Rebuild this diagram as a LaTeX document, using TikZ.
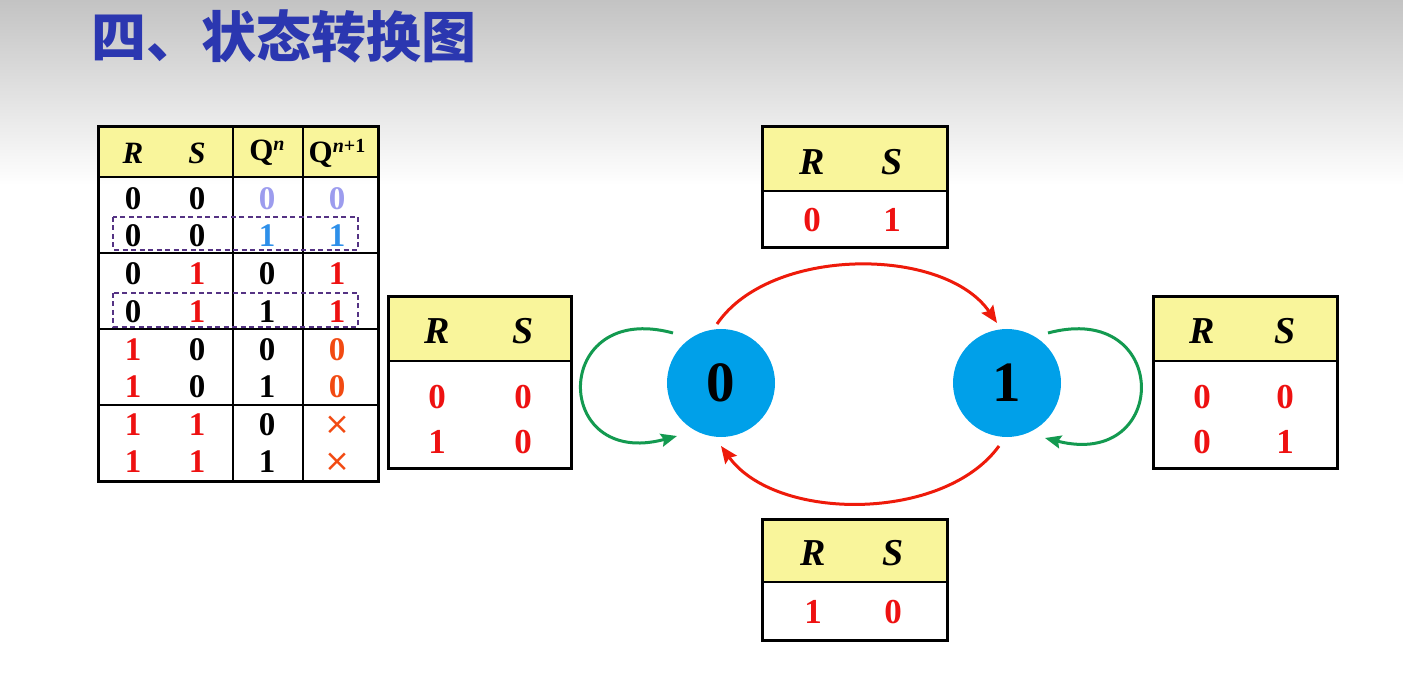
\documentclass[tikz,border=0pt]{standalone}
\usepackage{fontspec}
\setmainfont{Liberation Serif}
\newfontfamily\cjk{Noto Sans CJK SC}
\newfontfamily\symfont{DejaVu Sans}
\usetikzlibrary{arrows.meta,calc}

\definecolor{hdryellow}{HTML}{F9F59B}
\definecolor{digred}{HTML}{EE1111}
\definecolor{digorange}{HTML}{F24A12}
\definecolor{lav}{HTML}{9C9CEE}
\definecolor{skyb}{HTML}{2E90EA}
\definecolor{statefill}{HTML}{00A0E9}
\definecolor{transred}{HTML}{EE1A0A}
\definecolor{loopgreen}{HTML}{139A50}
\definecolor{titleblue}{HTML}{2B37B0}
\definecolor{boxpurple}{HTML}{553384}
\definecolor{topgray}{HTML}{C3C3C3}

\begin{document}
\begin{tikzpicture}[x=1pt,y=-1pt,
  every node/.style={inner sep=0pt},
  tdig/.style={font=\fontsize{33}{33}\selectfont\bfseries},
  thead/.style={font=\fontsize{31}{31}\selectfont\bfseries\itshape},
  sdig/.style={font=\fontsize{35}{35}\selectfont\bfseries, text=digred},
  shead/.style={font=\fontsize{38}{38}\selectfont\bfseries\itshape},
  frame/.style={draw=black, line width=3pt},
  rule/.style={draw=black, line width=2pt},
  groupbox/.style={draw=boxpurple, line width=1.3pt, dash pattern=on 5pt off 3.5pt},
  statenode/.style={circle, fill=statefill, minimum size=108pt,
    font=\fontsize{57}{57}\selectfont\bfseries},
  trans/.style={draw=transred, line width=3pt,
    -{Stealth[length=17pt,width=14pt,inset=2.5pt]}},
  selfloop/.style={draw=loopgreen, line width=3pt,
    -{Stealth[length=16pt,width=13pt,inset=2.5pt]}},
  cross/.style={font=\symfont\fontsize{31}{31}\selectfont, text=digorange}
]
% canvas and background fade
\useasboundingbox (0,0) rectangle (1403,692);
\fill[white] (0,0) rectangle (1403,692);
\shade[top color=topgray, bottom color=white] (0,0) rectangle (1403,185);

% heading
\node[anchor=west, text=titleblue, font=\cjk\bfseries\fontsize{55}{55}\selectfont]
  (title) at (91,36) {四、状态转换图};

% ---------- characteristic table ----------
\fill[hdryellow] (98,127) rectangle (378,177);
\draw[rule] (98,177) -- (378,177);
\draw[rule] (98,253) -- (378,253);
\draw[rule] (98,329) -- (378,329);
\draw[rule] (98,405) -- (378,405);
\draw[rule] (233,127) -- (233,481);
\draw[rule] (303,127) -- (303,481);
\draw[frame] (98,127) rectangle (378,481);

\node[thead] (hR) at (133,153) {R};
\node[thead] (hS) at (197,153) {S};
\node (hQ) at (267,153) {\fontsize{31}{31}\selectfont\bfseries Q\raisebox{10pt}{\fontsize{20}{20}\selectfont\bfseries\itshape n}};
\node (hQn) at (337,153) {\fontsize{31}{31}\selectfont\bfseries Q\raisebox{10pt}{\fontsize{20}{20}\selectfont\bfseries{\itshape n}+1}};

\draw[groupbox] (113,217) rectangle (358,250);
\draw[groupbox] (113,293) rectangle (358,327);

% rows: R, S, Q^n, Q^{n+1}
\node[tdig] (r1a) at (133,199) {0};
\node[tdig] (r1b) at (197,199) {0};
\node[tdig, text=lav] (r1c) at (267,199) {0};
\node[tdig, text=lav] (r1d) at (337,199) {0};

\node[tdig] (r2a) at (133,236) {0};
\node[tdig] (r2b) at (197,236) {0};
\node[tdig, text=skyb] (r2c) at (267,236) {1};
\node[tdig, text=skyb] (r2d) at (337,236) {1};

\node[tdig] (r3a) at (133,274) {0};
\node[tdig, text=digred] (r3b) at (197,274) {1};
\node[tdig] (r3c) at (267,274) {0};
\node[tdig, text=digred] (r3d) at (337,274) {1};

\node[tdig] (r4a) at (133,312) {0};
\node[tdig, text=digred] (r4b) at (197,312) {1};
\node[tdig] (r4c) at (267,312) {1};
\node[tdig, text=digred] (r4d) at (337,312) {1};

\node[tdig, text=digred] (r5a) at (133,350) {1};
\node[tdig] (r5b) at (197,350) {0};
\node[tdig] (r5c) at (267,350) {0};
\node[tdig, text=digorange] (r5d) at (337,350) {0};

\node[tdig, text=digred] (r6a) at (133,387) {1};
\node[tdig] (r6b) at (197,387) {0};
\node[tdig] (r6c) at (267,387) {1};
\node[tdig, text=digorange] (r6d) at (337,387) {0};

\node[tdig, text=digred] (r7a) at (133,425) {1};
\node[tdig, text=digred] (r7b) at (197,425) {1};
\node[tdig] (r7c) at (267,425) {0};
\node[cross] (r7d) at (337,425) {×};

\node[tdig, text=digred] (r8a) at (133,462) {1};
\node[tdig, text=digred] (r8b) at (197,462) {1};
\node[tdig] (r8c) at (267,462) {1};
\node[cross] (r8d) at (337,462) {×};

% ---------- input tables of the transitions ----------
% 0 -> 1
\fill[hdryellow] (762,127) rectangle (947,191);
\draw[rule, line width=2.5pt] (762,191) -- (947,191);
\draw[frame] (762,127) rectangle (947,248);
\node[shead] (tR) at (812,162) {R};
\node[shead] (tS) at (892,162) {S};
\node[sdig] (t1) at (812,220) {0};
\node[sdig] (t2) at (892,220) {1};

% 0 -> 0
\fill[hdryellow] (388,297) rectangle (571,361);
\draw[rule, line width=2.5pt] (388,361) -- (571,361);
\draw[frame] (388,297) rectangle (571,468);
\node[shead] (lR) at (437,331) {R};
\node[shead] (lS) at (523,331) {S};
\node[sdig] (l1) at (437,397) {0};
\node[sdig] (l2) at (523,397) {0};
\node[sdig] (l3) at (437,442) {1};
\node[sdig] (l4) at (523,442) {0};

% 1 -> 1
\fill[hdryellow] (1153,297) rectangle (1337,361);
\draw[rule, line width=2.5pt] (1153,361) -- (1337,361);
\draw[frame] (1153,297) rectangle (1337,468);
\node[shead] (rR) at (1202,331) {R};
\node[shead] (rS) at (1285,331) {S};
\node[sdig] (q1) at (1202,397) {0};
\node[sdig] (q2) at (1285,397) {0};
\node[sdig] (q3) at (1202,442) {0};
\node[sdig] (q4) at (1285,442) {1};

% 1 -> 0
\fill[hdryellow] (762,519) rectangle (947,582);
\draw[rule, line width=2.5pt] (762,582) -- (947,582);
\draw[frame] (762,519) rectangle (947,640);
\node[shead] (bR) at (813,553) {R};
\node[shead] (bS) at (893,553) {S};
\node[sdig] (b1) at (813,612) {1};
\node[sdig] (b2) at (893,612) {0};

% ---------- state diagram ----------
\node[statenode] (s0) at (721,383) {0};
\node[statenode] (s1) at (1007,383) {1};

\draw[trans] ($(s0)+(-4,-59)$) .. controls (770,246) and (944,246) .. ($(s1)+(-10,-60)$);
\draw[trans] ($(s1)+(-8,63)$) .. controls (944,522) and (776,522) .. ($(s0)+(0,63)$);
\draw[selfloop] ($(s0)+(-48,-50)$) .. controls (551,300) and (551,470) .. ($(s0)+(-44,53)$);
\draw[selfloop] ($(s1)+(41,-50)$) .. controls (1171,300) and (1171,470) .. ($(s1)+(38,55)$);
\end{tikzpicture}
\end{document}
